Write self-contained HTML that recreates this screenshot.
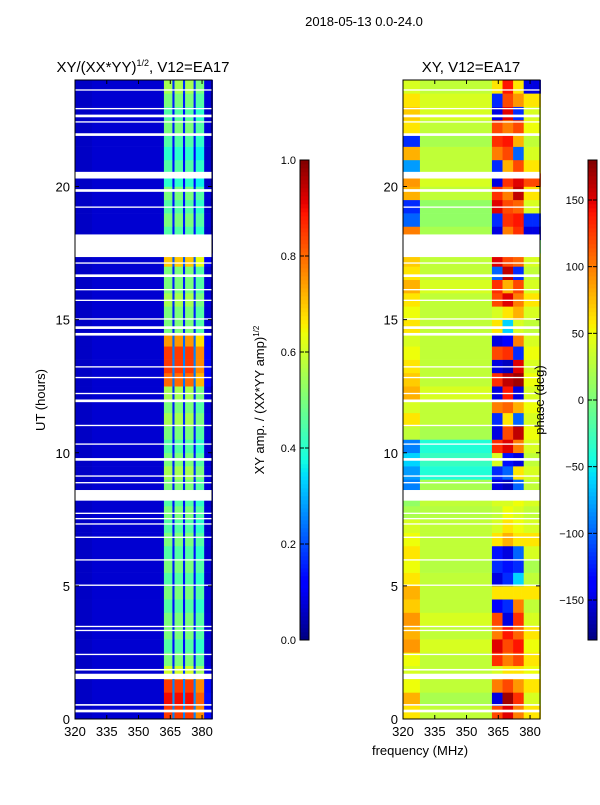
<!DOCTYPE html>
<html><head><meta charset="utf-8"><style>
body{margin:0;background:#fff;font-family:"Liberation Sans","DejaVu Sans",sans-serif;}
svg text{font-family:"Liberation Sans","DejaVu Sans",sans-serif;fill:#000;}
</style></head><body>
<svg id="fig" width="600" height="800" viewBox="0 0 600 800">
<rect width="600" height="800" fill="#fff"/>
<text x="364" y="26" font-size="13" text-anchor="middle">2018-05-13 0.0-24.0</text>
<g id="left"></g>
<g id="right"></g>
<g id="cbars"></g>
<text x="143" y="72" font-size="15" text-anchor="middle">XY/(XX*YY)<tspan font-size="9" dy="-6">1/2</tspan><tspan dy="6">, V12=EA17</tspan></text>
<text x="471" y="72" font-size="15" text-anchor="middle">XY, V12=EA17</text>
<text transform="translate(45,400) rotate(-90)" font-size="13" text-anchor="middle">UT (hours)</text>
<text x="420" y="755" font-size="13" text-anchor="middle">frequency (MHz)</text>
<text transform="translate(264,400) rotate(-90)" font-size="13" text-anchor="middle">XY amp. / (XX*YY amp)<tspan font-size="8" dy="-5">1/2</tspan></text>
<text transform="translate(544,400) rotate(-90)" font-size="13" text-anchor="middle">phase (deg)</text>
</svg>
<script>
// ---- data ----
const timeRows = [0,0.5,1,1.5,2,2.5,3,3.5,4,4.5,5,5.5,6,6.5,7,7.5,8,8.5,9,9.5,10,10.5,11,11.5,12,12.5,13,13.5,14,14.5,15,15.5,16,16.5,17,17.5,18,18.5,19,19.5,20,20.5,21,21.5,22,22.5,23,23.5];
const freqEdges = [320,328,362,366,367,371,372,376,377,381,385];
const ampBand = [0.06,0.07,1.0,0.3,1.0,0.3,1.0,0.3,0.9,0.15];
const ampHigh = [0.85,0.9,0.85,0.6,0.5,0.45,0.5,0.5,0.45,0.5,0.45,0.5,0.45,0.5,0.45,0.5,0.45,0.5,0.55,0.5,0.45,0.5,0.55,0.5,0.55,0.8,0.85,0.85,0.75,0.5,0.5,0.55,0.5,0.5,0.7,0,0.45,0.5,0.45,0.5,0.4,0.45,0.4,0.45,0.5,0.45,0.5,0.55];
const phaseLeft = [60,80,50,40,50,90,80,90,70,80,60,50,60,50,40,20,10,-90,-80,-60,-90,30,60,40,80,70,60,50,40,60,50,60,80,60,70,0,100,-100,-120,80,90,-80,80,-120,60,70,60,40];
const phaseMid = [30,20,30,30,30,40,30,40,30,30,30,25,30,30,30,25,30,20,-40,-30,-40,20,30,30,40,30,30,30,30,30,30,30,40,30,30,0,20,10,10,30,40,30,30,20,30,40,40,30];
const phaseHi1 = [120,-150,100,40,130,150,100,120,-140,60,-150,-120,-130,60,40,30,40,-150,-120,40,130,-150,-120,100,-150,130,-150,120,-150,60,40,120,130,-100,150,0,-150,-120,150,130,-150,-120,100,130,120,-150,-120,60];
const phaseHi2 = [150,170,120,60,100,120,140,-150,-120,60,-120,-130,-150,80,60,50,40,-160,-100,-130,150,120,60,110,140,160,-160,130,-140,-60,60,150,80,160,120,0,100,130,120,100,130,80,120,140,100,150,120,140];
const phaseHi3 = [100,130,90,60,120,140,110,130,100,60,-60,-120,-100,60,50,40,50,-100,60,-150,100,160,-100,80,-150,170,150,-120,100,40,80,100,120,-120,110,0,130,140,110,160,150,120,-100,80,120,-120,90,60];
const phaseHi4 = [60,40,60,50,60,50,60,40,30,60,30,20,40,60,40,30,40,30,40,30,40,50,40,50,40,50,40,50,40,30,40,60,40,30,40,0,-150,-120,40,60,120,60,40,30,50,40,60,-150];
const gaps = [[0.25,0.35],[0.5,0.56],[1.5,1.7],[1.82,1.88],[2.4,2.45],[3.3,3.35],[3.45,3.5],[5.0,5.05],[5.95,6.0],[6.8,6.85],[7.3,7.35],[7.5,7.55],[7.7,7.75],[8.2,8.6],[8.85,8.9],[9.1,9.15],[9.7,9.8],[10.3,10.35],[11.0,11.05],[11.9,12.0],[12.2,12.25],[12.8,12.85],[13.2,13.25],[14.4,14.5],[14.65,14.75],[15.0,15.05],[15.7,15.75],[16.1,16.15],[16.6,16.7],[17.1,17.15],[17.35,18.2],[19.2,19.25],[19.8,19.9],[20.3,20.55],[21.9,22.0],[22.4,22.45],[22.6,22.7],[22.9,22.95],[23.6,23.65]];
const xTicks = [320,335,350,365,380];
const yTicks = [0,5,10,15,20];
const ampTicks = [0.0,0.2,0.4,0.6,0.8,1.0];
const phaseTicks = [-150,-100,-50,0,50,100,150];

// ---- helpers ----
const NS = "http://www.w3.org/2000/svg";
function mk(tag, attrs, parent){const e=document.createElementNS(NS,tag);for(const k in attrs)e.setAttribute(k,attrs[k]);parent.appendChild(e);return e;}
function interp(pts,v){for(let i=1;i<pts.length;i++){if(v<=pts[i][0]){const a=pts[i-1],b=pts[i];return a[1]+(b[1]-a[1])*(v-a[0])/(b[0]-a[0]);}}return pts[pts.length-1][1];}
function jet(v){v=Math.max(0,Math.min(1,v));
 const r=interp([[0,0],[0.35,0],[0.66,1],[0.89,1],[1,0.5]],v);
 const g=interp([[0,0],[0.125,0],[0.375,1],[0.64,1],[0.91,0],[1,0]],v);
 const b=interp([[0,0.5],[0.11,1],[0.34,1],[0.65,0],[1,0]],v);
 return `rgb(${Math.round(r*255)},${Math.round(g*255)},${Math.round(b*255)})`;}
const Y0=719,Y1=80,T0=0,T1=24;
function yS(t){return Y0-(t-T0)/(T1-T0)*(Y0-Y1);}
function makeX(x0){return f=>x0+(f-320)*(137/64.7);}

function panel(gid,x0,valueFn,isAmp){
 const g=document.getElementById(gid);
 const xS=makeX(x0);
 for(let r=0;r<timeRows.length;r++){
  for(let c=0;c<freqEdges.length-1;c++){
   const v=valueFn(r,c);
   const cell=mk('rect',{x:xS(freqEdges[c]),y:yS(timeRows[r]+0.5),width:xS(freqEdges[c+1])-xS(freqEdges[c])+0.3,height:yS(timeRows[r])-yS(timeRows[r]+0.5)+0.3,fill:jet(v)},g);
   
   
  }
 }
 gaps.forEach(gp=>{
  const e=mk('rect',{x:x0,y:yS(gp[1]),width:137,height:yS(gp[0])-yS(gp[1]),fill:'#fff'},g);
  
  
 });
 const fr=mk('rect',{x:x0,y:Y1,width:137,height:Y0-Y1,fill:'none',stroke:'#000','stroke-width':1},g);
 
 
 xTicks.forEach(t=>{const x=xS(t);
  mk('line',{x1:x,x2:x,y1:Y0,y2:Y0-4,stroke:'#000'},g);mk('line',{x1:x,x2:x,y1:Y1,y2:Y1+4,stroke:'#000'},g);
  const tx=mk('text',{x:x,y:Y0+17,'font-size':13,'text-anchor':'middle'},g);tx.textContent=t;
  
  });
 yTicks.forEach(t=>{const y=yS(t);
  mk('line',{x1:x0,x2:x0+4,y1:y,y2:y,stroke:'#000'},g);mk('line',{x1:x0+137,x2:x0+133,y1:y,y2:y,stroke:'#000'},g);
  const tx=mk('text',{x:x0-5,y:y+5,'font-size':13,'text-anchor':'end'},g);tx.textContent=t;
  
  });
}
panel('left',75,(r,c)=>c<2?ampBand[c]:ampHigh[r]*ampBand[c],true);
const hiBands=[phaseHi1,phaseHi1,phaseHi2,phaseHi2,phaseHi3,phaseHi3,phaseHi4,phaseHi4];
panel('right',403,(r,c)=>{let p=c===0?phaseLeft[r]:c===1?phaseMid[r]:hiBands[c-2][r];return (p+180)/360;},false);

function colorbar(x,lo,hi,ticks,fmt,name){
 const g=document.getElementById('cbars');
 const top=160,bot=640;
 const n=120,h=(bot-top)/n;
 for(let i=0;i<n;i++){mk('rect',{x:x,y:bot-(i+1)*h,width:9,height:h+0.3,fill:jet((i+0.5)/n)},g);}
 const fr=mk('rect',{x:x,y:top,width:9,height:bot-top,fill:'none',stroke:'#000'},g);
 
 
 ticks.forEach(t=>{const y=bot-(t-lo)/(hi-lo)*(bot-top);
  mk('line',{x1:x+9,x2:x+5,y1:y,y2:y,stroke:'#000'},g);mk('line',{x1:x,x2:x+4,y1:y,y2:y,stroke:'#000'},g);
  const tx=mk('text',{x:x-4,y:y+4,'font-size':11,'text-anchor':'end'},g);tx.textContent=fmt(t);
  
  });
}
colorbar(300,0,1,ampTicks,t=>t.toFixed(1),'amp-colorbar');
colorbar(588,-180,180,phaseTicks,t=>t<0?'\u2212'+(-t):String(t),'phase-colorbar');
</script>
</body></html>
